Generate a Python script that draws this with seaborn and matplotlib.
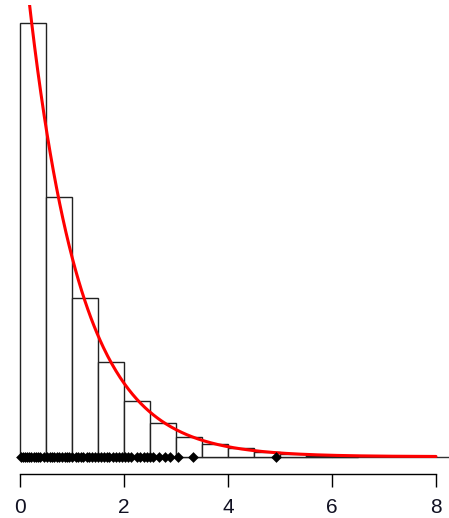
import numpy as np
import matplotlib
matplotlib.use("Agg")
import matplotlib.pyplot as plt
import seaborn as sns

# histogram bins (width 0.5) and counts, n = 1000
bin_edges = [0.0, 0.5, 1.0, 1.5, 2.0, 2.5, 3.0, 3.5, 4.0, 4.5, 5.0, 5.5, 6.0, 6.5]
bin_counts = [400, 239, 146, 87, 51, 31, 18, 12, 8, 4, 2, 1, 1]

# sample points drawn along the baseline
rug_x = [0.02, 0.05, 0.09, 0.13, 0.17, 0.22, 0.26, 0.31, 0.35, 0.38, 0.47, 0.52,
         0.57, 0.61, 0.66, 0.71, 0.75, 0.80, 0.86, 0.91, 0.95, 1.00, 1.07, 1.12,
         1.17, 1.22, 1.28, 1.33, 1.39, 1.45, 1.50, 1.56, 1.61, 1.67, 1.72, 1.78,
         1.84, 1.90, 1.96, 2.02, 2.08, 2.14, 2.25, 2.31, 2.38, 2.44, 2.50, 2.55,
         2.68, 2.79, 2.89, 3.04, 3.33, 4.93]

# exponential density, rate 1
rate = 1.0
x_ticks = [0, 2, 4, 6, 8]

sns.set_style("white")
plt.rcParams["font.family"] = ["Liberation Sans", "DejaVu Sans"]

W, H = 449, 518
fig = plt.figure(figsize=(W / 100, H / 100), dpi=100)
# plot region like R's (4% padding around xlim 0..8)
left, right = 3.4, 452.6
top, bottom = 5.2, 474.0
ax = fig.add_axes([left / W, 1 - bottom / H, (right - left) / W, (bottom - top) / H])

mids = [(a + b) / 2 for a, b in zip(bin_edges[:-1], bin_edges[1:])]
sns.histplot(x=mids, weights=bin_counts, bins=bin_edges, stat="density",
             color="white", edgecolor="#222222", linewidth=1.0, alpha=1,
             ax=ax, zorder=2)

ax.plot([0, 8.32], [0, 0], color="#333333", lw=1.0, zorder=1)

xs = np.linspace(0, 8, 400)
sns.lineplot(x=xs, y=rate * np.exp(-rate * xs), color="red", lw=2.2, ax=ax, zorder=3)

sns.scatterplot(x=rug_x, y=[0] * len(rug_x), marker="D", s=30, color="black",
                edgecolor="black", linewidth=0, ax=ax, zorder=4)

ax.set_xlim(-0.32, 8.32)
ax.set_ylim(-0.032, 0.832)
ax.set_xticks(x_ticks)
ax.set_xticklabels([str(t) for t in x_ticks])
ax.set_yticks([])
ax.set_xlabel("")
ax.set_ylabel("")
for s in ["top", "right", "left"]:
    ax.spines[s].set_visible(False)
ax.spines["bottom"].set_bounds(0, 8)
ax.spines["bottom"].set_color("black")
ax.spines["bottom"].set_linewidth(1.0)
ax.tick_params(axis="x", bottom=True, direction="out", length=9.5, width=1.0,
               color="black", labelsize=15, labelcolor="#111122", pad=7.5)
ax.patch.set_alpha(0)

fig.savefig("out.png", dpi=100)
